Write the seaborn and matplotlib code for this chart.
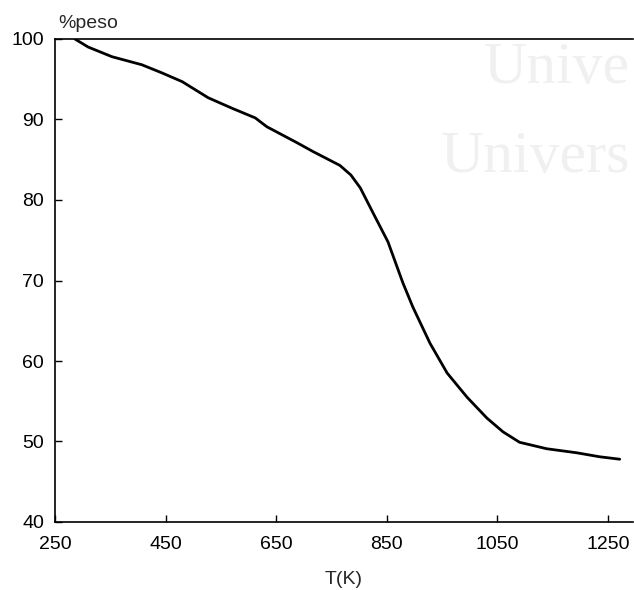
import matplotlib
matplotlib.use("Agg")
import matplotlib.pyplot as plt
import seaborn as sns
import pandas as pd

temperature_K = [286, 310, 353, 407, 443, 480, 527, 570, 612, 633, 688, 717, 765,
                 785, 802, 825, 852, 879, 897, 928, 959, 995, 1031, 1060, 1090, 1139, 1193, 1235, 1271]
weight_pct = [100.0, 99.0, 97.8, 96.8, 95.8, 94.7, 92.7, 91.4, 90.2, 89.1, 87.1, 86.0, 84.3,
              83.1, 81.5, 78.4, 74.8, 69.7, 66.7, 62.2, 58.5, 55.5, 52.9, 51.2, 49.9, 49.1, 48.6, 48.1, 47.8]
x_ticks = [250, 450, 650, 850, 1050, 1250]
y_ticks = [40, 50, 60, 70, 80, 90, 100]

sns.set_style("ticks")
plt.rcParams['font.family'] = ['Liberation Sans', 'DejaVu Sans']

df = pd.DataFrame({"T": temperature_K, "peso": weight_pct})

fig = plt.figure(figsize=(6.34, 5.90), dpi=100)
# faint watermark
fig.text(484/634, 1 - 83/590, "Unive", fontsize=43, color="#f0f0f0",
         family="Liberation Serif", ha="left", va="baseline", zorder=0)
fig.text(441/634, 1 - 172/590, "Univers", fontsize=43, color="#f0f0f0",
         family="Liberation Serif", ha="left", va="baseline", zorder=0)

ax = fig.add_axes([55/634, 1 - 522/590, 578/634, 483/590])
ax.patch.set_alpha(0)
sns.lineplot(data=df, x="T", y="peso", sort=False, color="black", linewidth=2.0, ax=ax)
ax.lines[0].set_solid_joinstyle("round")
ax.lines[0].set_solid_capstyle("round")

ax.set_xlim(250, 1295)
ax.set_ylim(40, 100)
ax.set_xticks(x_ticks)
ax.set_yticks(y_ticks)
ax.tick_params(direction="in", length=5, width=1.0, labelsize=14, colors="black")
ax.tick_params(axis="x", pad=10)
ax.tick_params(axis="y", pad=8)
for s in ["left", "bottom", "top"]:
    ax.spines[s].set_linewidth(1.2)
    ax.spines[s].set_color("black")
ax.spines["right"].set_visible(False)

ax.set_xlabel("T(K)", fontsize=14, labelpad=13)
ax.set_ylabel("")
ax.text(0.005, 1.023, "%peso", transform=ax.transAxes, fontsize=14,
        ha="left", va="baseline")

fig.savefig("out.png", dpi=100)
